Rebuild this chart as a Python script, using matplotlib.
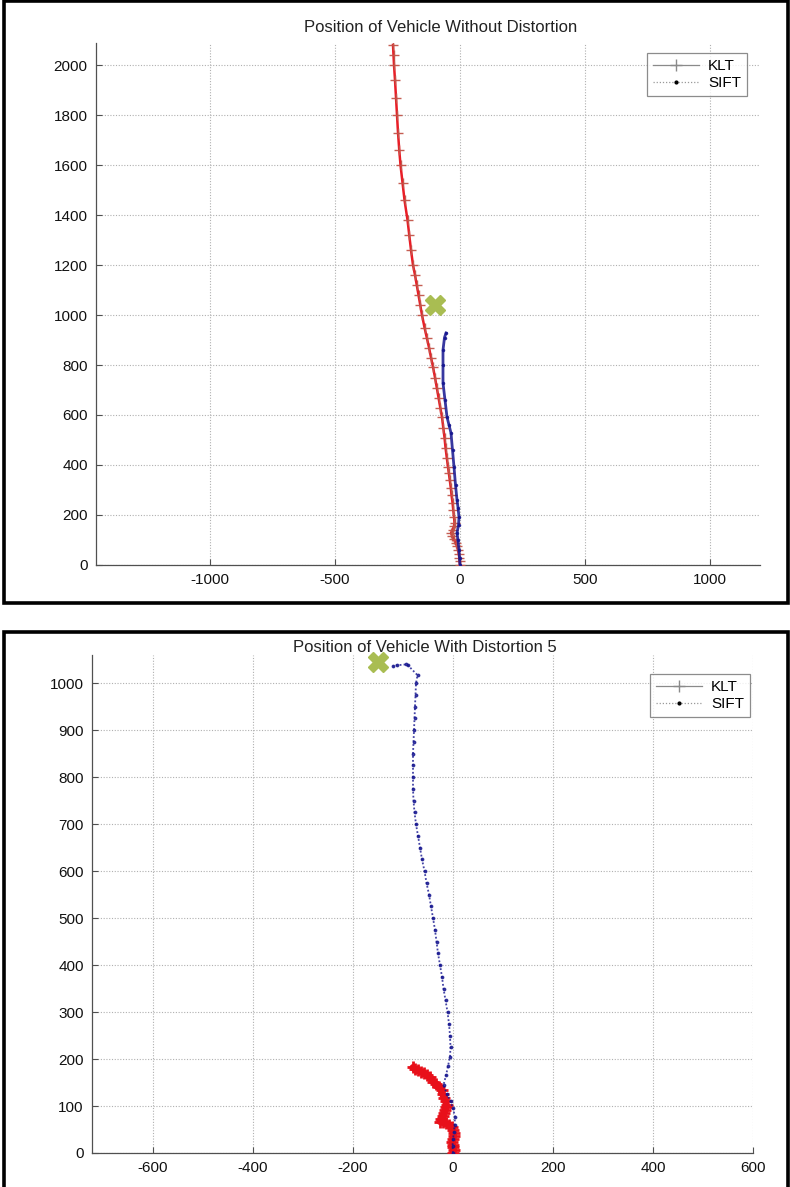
import matplotlib
matplotlib.use("Agg")
import matplotlib.pyplot as plt
from matplotlib.lines import Line2D
from matplotlib.patches import Rectangle

plt.rcParams['font.family'] = ['Liberation Sans', 'DejaVu Sans']
plt.rcParams['axes.unicode_minus'] = False

# ---------------- data: top panel (without distortion) ----------------
top_title = "Position of Vehicle Without Distortion"
top_klt_x = [0, -2, -3, -5, -8, -12, -18, -26, -32, -36, -30, -24, -22, -24, -27, -30, -34, -37,
             -41, -45, -48, -53, -58, -62, -67, -72, -79, -86, -93, -100, -108, -116, -124, -133,
             -142, -152, -159, -166, -173, -180, -188, -196, -203, -210, -222, -230, -238, -243,
             -248, -252, -256, -260, -264, -266, -268]
top_klt_y = [0, 15, 30, 45, 60, 75, 90, 105, 118, 128, 140, 155, 170, 192, 220, 250, 280, 310,
             340, 370, 392, 430, 470, 510, 550, 592, 630, 670, 710, 750, 792, 830, 870, 910,
             950, 1000, 1040, 1080, 1120, 1160, 1200, 1260, 1320, 1380, 1460, 1530, 1600, 1660,
             1730, 1800, 1870, 1940, 2000, 2040, 2080]
top_sift_x = [0, -2, -4, -8, -12, -6, -4, -8, -12, -18, -24, -30, -36, -44, -52, -60, -68, -68,
              -68, -62, -56]
top_sift_y = [0, 30, 60, 100, 128, 160, 192, 230, 260, 320, 392, 460, 528, 560, 592, 660, 728,
              800, 860, 910, 928]
top_end_x = [-100]
top_end_y = [1040]
top_xticks = [-1000, -500, 0, 500, 1000]
top_yticks = [0, 200, 400, 600, 800, 1000, 1200, 1400, 1600, 1800, 2000]

# ---------------- data: bottom panel (distortion 5) ----------------
bot_title = "Position of Vehicle With Distortion 5"
bot_klt_x = [0, 1, 0, -1, -2, 0, 1, 1, -1, -3, -8, -14, -20, -26, -24, -21, -18, -16, -14, -13,
             -15, -18, -21, -23, -28, -34, -40, -46, -52, -58, -64, -70, -76, -80]
bot_klt_y = [0, 6, 12, 18, 24, 30, 36, 42, 48, 56, 60, 63, 65, 67, 73, 79, 85, 91, 97, 102,
             110, 118, 126, 134, 140, 146, 152, 162, 166, 170, 173, 176, 179, 182]
bot_sift_x = [0, -1, 0, 2, 3, 4, 0, -5, -12, -19, -14, -10, -6, -5, -6, -8, -11, -15, -19, -22,
              -26, -30, -33, -36, -40, -44, -48, -53, -57, -62, -66, -70, -74, -77, -79, -80,
              -80, -80, -80, -79, -78, -77, -76, -75, -74, -71, -90, -94, -113, -120]
bot_sift_y = [0, 15, 30, 45, 60, 77, 95, 110, 125, 145, 165, 185, 205, 225, 250, 275, 300, 325,
              350, 375, 400, 425, 450, 475, 500, 525, 550, 575, 600, 625, 650, 675, 700, 725,
              750, 775, 800, 825, 850, 875, 900, 925, 950, 975, 1000, 1017, 1038, 1040, 1038,
              1036]
bot_end_x = [-150]
bot_end_y = [1045]
bot_xticks = [-600, -400, -200, 0, 200, 400, 600]
bot_yticks = [0, 100, 200, 300, 400, 500, 600, 700, 800, 900, 1000]

legend_labels = ["KLT", "SIFT"]

# ---------------- figure ----------------
W, H = 790, 1187
fig = plt.figure(figsize=(W / 100, H / 100), dpi=100)


def fbox(x0, y0, x1, y1):
    return [x0 / W, 1 - y1 / H, (x1 - x0) / W, (y1 - y0) / H]


# panel frames
for (x0, y0, x1, y1) in [(4, 1, 788, 603), (4, 632, 788, 1195)]:
    l, b, w, h = fbox(x0, y0, x1, y1)
    fig.patches.append(Rectangle((l, b), w, h, transform=fig.transFigure, fill=False,
                                 edgecolor='black', linewidth=2.6, zorder=0))

RED = '#e8101a'
MRED = '#c2554a'
BLUE = '#15158f'
GREEN = '#a9bd52'


def style_axes(ax, xticks, yticks, xlim, ylim, leg_anchor):
    ax.set_xlim(*xlim)
    ax.set_ylim(*ylim)
    ax.set_xticks(xticks)
    ax.set_yticks(yticks)
    ax.grid(True, linestyle=(0, (1, 1.5)), color='#b0b0b0', linewidth=0.8)
    ax.set_axisbelow(True)
    for s in ['top', 'right']:
        ax.spines[s].set_visible(False)
    for s in ['left', 'bottom']:
        ax.spines[s].set_color('#505050')
        ax.spines[s].set_linewidth(0.9)
    ax.tick_params(direction='in', length=4, width=0.8, color='#505050',
                   labelsize=11, labelcolor='#111111', pad=6)
    ax.patch.set_alpha(0)
    handles = [Line2D([0], [0], color='#8a8a8a', lw=0.9, marker='+', markersize=8,
                      markeredgecolor='#8a8a8a'),
               Line2D([0], [0], color='#9a9a9a', lw=0.9, linestyle=(0, (1, 1.5)), marker='.',
                      markersize=4, markerfacecolor='black', markeredgecolor='black')]
    leg = ax.legend(handles, legend_labels, loc='upper right', fontsize=11, frameon=True,
                    fancybox=False, edgecolor='#707070', handlelength=3.0, borderpad=0.4,
                    labelspacing=0.2, handletextpad=0.6, borderaxespad=0,
                    bbox_to_anchor=leg_anchor)
    leg.get_frame().set_linewidth(0.9)


# top axes
ax1 = fig.add_axes(fbox(96, 43, 760, 565))
ax1.plot(top_klt_x, top_klt_y, color=RED, lw=1.8, marker='+', markersize=6.5, mew=1.0,
         markeredgecolor=MRED, alpha=0.95, zorder=3)
ax1.plot(top_sift_x, top_sift_y, color=BLUE, lw=2.0, linestyle='-', marker='.', markersize=3,
         alpha=0.85, zorder=4)
ax1.plot(top_end_x, top_end_y, linestyle='none', marker='X', markersize=15, color=GREEN,
         markeredgecolor=GREEN, zorder=5)
style_axes(ax1, top_xticks, top_yticks, (-1456, 1200), (0, 2088),
           ((747 - 96) / 664, (565 - 53) / 522))
fig.text(441 / W, 1 - 28 / H, top_title, ha='center', va='center', fontsize=12,
         color='#222222')

# bottom axes
ax2 = fig.add_axes(fbox(92, 655, 753, 1153))
ax2.plot(bot_klt_x, bot_klt_y, color=RED, lw=5, marker='+', markersize=9, mew=2.0,
         markeredgecolor=RED, zorder=3, solid_capstyle='round', solid_joinstyle='round')
ax2.plot(bot_sift_x, bot_sift_y, color=BLUE, lw=1.3, linestyle=(0, (1, 1.2)), marker='.',
         markersize=3.5, alpha=0.8, zorder=4)
ax2.plot(bot_end_x, bot_end_y, linestyle='none', marker='X', markersize=15, color=GREEN,
         markeredgecolor=GREEN, zorder=5, clip_on=False)
style_axes(ax2, bot_xticks, bot_yticks, (-722, 600), (0, 1060),
           ((750 - 92) / 661, (1153 - 674) / 498))
fig.text(425 / W, 1 - 648 / H, bot_title, ha='center', va='center', fontsize=12,
         color='#222222')

fig.savefig("out.png", dpi=100, facecolor='white')
